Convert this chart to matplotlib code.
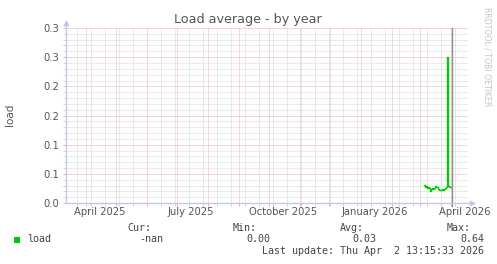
import datetime as dt
import matplotlib
matplotlib.use("Agg")
import matplotlib.pyplot as plt
import matplotlib.dates as mdates
import matplotlib.ticker as mticker
import matplotlib.transforms as mtrans
from matplotlib.patches import Rectangle
import pandas as pd

# data
view_start = dt.datetime(2025, 3, 12, 8)
view_end = dt.datetime(2026, 4, 18, 8)
last_update = dt.datetime(2026, 4, 2, 13, 15, 33)
minor_grid_start = dt.datetime(2025, 3, 23)   # gray grid every two weeks

load_first_day = dt.datetime(2026, 3, 5, 8)
load_values = [0.031, 0.028, 0.029, 0.026, 0.027, 0.025, 0.021, 0.0245, 0.026, 0.024,
               0.026, 0.029, 0.027, 0.028, 0.024, 0.022, 0.023, 0.022, 0.0235, 0.022,
               0.024, 0.026, 0.028, 0.25, 0.029, 0.028, 0.028, 0.028]

y_ticks = [0.0, 0.05, 0.10, 0.15, 0.20, 0.25, 0.30]
y_labels = ["0.0", "0.1", "0.1", "0.2", "0.2", "0.3", "0.3"]
x_label_dates = [dt.datetime(2025, 4, 15), dt.datetime(2025, 7, 15), dt.datetime(2025, 10, 15),
                 dt.datetime(2026, 1, 15), dt.datetime(2026, 4, 15)]
x_labels = ["April 2025", "July 2025", "October 2025", "January 2026", "April 2026"]

legend_heads = ["Cur:", "Min:", "Avg:", "Max:"]
legend_vals = ["-nan", "0.00", "0.03", "0.64"]

W, H = 497, 264
txt = "#555555"
mgrid = "#eeb0b0"
grid = "#d4d4d4"
axcol = "#c3c6ee"

fig = plt.figure(figsize=(W / 100, H / 100), dpi=100)
fig.patch.set_facecolor("white")

def px(x, y):
    return x / W, 1 - y / H

left, right, top, bottom = 66, 468, 28, 203
ax = fig.add_axes([left / W, 1 - bottom / H, (right - left) / W, (bottom - top) / H])
ax.set_facecolor("white")
for s in ax.spines.values():
    s.set_visible(False)

dates = pd.date_range(load_first_day, periods=len(load_values), freq="D")
ax.plot(dates, load_values, color="#00cc00", lw=1.0, drawstyle="steps-post", zorder=4)
ax.axvline(last_update, color="#8f8f8f", lw=1.0, zorder=5, ymin=-0.015, clip_on=False)

ax.set_xlim(view_start, view_end)
ax.set_ylim(0, 0.30)

ax.xaxis.set_major_locator(mdates.MonthLocator(bymonthday=1))
ax.set_xticks(pd.date_range(minor_grid_start, view_end, freq="14D"), minor=True)
ax.xaxis.set_major_formatter(mticker.NullFormatter())
ax.xaxis.set_minor_formatter(mticker.NullFormatter())
ax.set_yticks(y_ticks)
ax.set_yticklabels(y_labels)
ax.yaxis.set_minor_locator(mticker.MultipleLocator(0.01))

ax.grid(which="minor", color=grid, lw=0.72, linestyle=(0, (1, 1)), zorder=1)
ax.grid(which="major", color=mgrid, lw=0.72, linestyle=(0, (1, 1)), zorder=2)
ax.set_axisbelow(True)

ax.tick_params(axis="both", which="major", length=2.2, width=0.72, color=mgrid,
               labelsize=7.2, labelcolor=txt, pad=2.5)
ax.tick_params(axis="both", which="minor", length=2.2, width=0.72, color=grid)

xform = mtrans.blended_transform_factory(ax.transData, ax.transAxes)
for d, lab in zip(x_label_dates, x_labels):
    ax.text(d, -9 / (bottom - top), lab, transform=xform, ha="center", va="center",
            fontsize=7.2, color=txt)

# axes with arrows
ax.plot([0, 1.008], [0, 0], transform=ax.transAxes, color=axcol, lw=1.0, clip_on=False, zorder=6)
ax.plot([0, 0], [0, 1.02], transform=ax.transAxes, color=axcol, lw=1.0, clip_on=False, zorder=6)
ax.plot([1.01], [0], transform=ax.transAxes, marker=">", ms=3.2, color=axcol, clip_on=False, zorder=6)
ax.plot([0], [1.03], transform=ax.transAxes, marker="^", ms=3.2, color=axcol, clip_on=False, zorder=6)

fig.text(*px(248, 19), "Load average - by year", ha="center", va="center", fontsize=9.2, color=txt)
fig.text(*px(10, 115), "load", ha="center", va="center", rotation=90, fontsize=7.5, color=txt)
fig.text(*px(487, 57), "RRDTOOL / TOBI OETIKER", ha="center", va="center", rotation=270,
         fontsize=5.6, color="#c4c4c4")

# legend
fig.add_artist(Rectangle(px(13.5, 243), 6 / W, 6 / H, transform=fig.transFigure,
                         facecolor="#00cc00", edgecolor="none"))
mono = "DejaVu Sans Mono"
fig.text(*px(27, 239.5), "load", ha="left", va="center", fontsize=7.2, color="#444444", family=mono)
head_x = [127.5, 233, 340, 446.5]
val_x = [163, 270, 376.5, 484]
for hx, h in zip(head_x, legend_heads):
    fig.text(*px(hx, 228), h, ha="left", va="center", fontsize=7.2, color="#444444", family=mono)
for vx, v in zip(val_x, legend_vals):
    fig.text(*px(vx, 239.5), v, ha="right", va="center", fontsize=7.2, color="#444444", family=mono)
fig.text(*px(484, 251.5), "Last update: Thu Apr  2 13:15:33 2026", ha="right", va="center",
         fontsize=7.2, color="#444444", family=mono)

fig.savefig("out.png", dpi=100, facecolor="white")
